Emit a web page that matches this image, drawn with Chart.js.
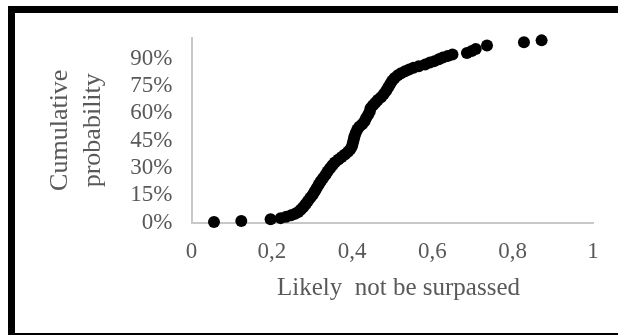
<!DOCTYPE html>
<html>
<head>
<meta charset="utf-8">
<script src="https://cdn.jsdelivr.net/npm/chart.js@4.4.1/dist/chart.umd.min.js"></script>
<style>
  html, body { margin: 0; padding: 0; background: #fff; overflow: hidden; }
  #wrap { position: relative; width: 618px; height: 336px; }
  #frame {
    position: absolute; left: 8px; top: 6px; width: 620px; height: 320px;
    border-left: 7px solid #000; border-top: 7px solid #000; border-bottom: 2px solid #000;
    pointer-events: none;
  }
  canvas { position: absolute; left: 0; top: 0; }
</style>
</head>
<body>
<div id="wrap">
  <canvas id="mycanvas" width="618" height="336"></canvas>
  <div id="frame"></div>
</div>
<script>
// values
var likely = [
  0.056, 0.124, 0.197, 0.222, 0.236, 0.248, 0.258, 0.266, 0.272, 0.278,
  0.284, 0.290, 0.296, 0.302, 0.307, 0.312, 0.317, 0.322, 0.328, 0.334,
  0.339, 0.345, 0.351, 0.357, 0.366, 0.374, 0.382, 0.390, 0.396, 0.400,
  0.402, 0.404, 0.406, 0.409, 0.413, 0.418, 0.425, 0.431, 0.435, 0.440,
  0.444, 0.446, 0.452, 0.458, 0.464, 0.472, 0.479, 0.485, 0.490, 0.495,
  0.500, 0.506, 0.514, 0.522, 0.532, 0.542, 0.553, 0.566, 0.582, 0.594,
  0.605, 0.616, 0.626, 0.638, 0.650, 0.686, 0.698, 0.708, 0.736, 0.828,
  0.872
];
var cumulative = [
  0.003, 0.008, 0.018, 0.024, 0.032, 0.040, 0.048, 0.058, 0.070, 0.084,
  0.100, 0.118, 0.136, 0.152, 0.172, 0.190, 0.208, 0.226, 0.244, 0.262,
  0.280, 0.298, 0.314, 0.330, 0.346, 0.360, 0.374, 0.388, 0.404, 0.420,
  0.438, 0.456, 0.474, 0.492, 0.510, 0.526, 0.540, 0.556, 0.574, 0.592,
  0.610, 0.628, 0.644, 0.658, 0.672, 0.688, 0.706, 0.724, 0.742, 0.760,
  0.778, 0.794, 0.808, 0.820, 0.830, 0.840, 0.850, 0.858, 0.868, 0.878,
  0.886, 0.896, 0.906, 0.914, 0.922, 0.930, 0.942, 0.952, 0.972, 0.990,
  1.000
];
var xTicks = [0, 0.2, 0.4, 0.6, 0.8, 1];
var yTicks = [0, 0.15, 0.30, 0.45, 0.60, 0.75, 0.90];

var points = [];
for (var i in likely) {
  points.push({ x: likely[i], y: cumulative[i] });
}

var grey = '#595959';
var axisGrey = '#c8c8c8';

var ctx = document.getElementById('mycanvas');
var chart = new Chart(ctx, {
  type: 'scatter',
  data: {
    datasets: [{
      data: points,
      backgroundColor: '#000',
      borderColor: '#000',
      borderWidth: 0,
      pointRadius: 6,
      pointHoverRadius: 6,
      clip: false
    }]
  },
  options: {
    responsive: false,
    animation: false,
    devicePixelRatio: 1,
    layout: { padding: { top: 38, right: 25, left: 0, bottom: 0 } },
    plugins: {
      legend: { display: false },
      tooltip: { enabled: false }
    },
    scales: {
      x: {
        type: 'linear',
        min: 0,
        max: 1,
        grid: { display: false, drawTicks: false },
        border: { display: true, color: axisGrey, width: 2 },
        afterBuildTicks: function(scale) {
          scale.ticks = xTicks.map(function(v) { return { value: v }; });
        },
        afterFit: function(scale) { scale.height = 113.5; },
        ticks: {
          autoSkip: false,
          maxRotation: 0,
          padding: 16,
          color: grey,
          font: { family: 'Liberation Serif', size: 23 },
          callback: function(v) { return String(Math.round(v * 10) / 10).replace('.', ','); }
        },
        title: {
          display: true,
          text: '  Likely  not be surpassed',
          color: grey,
          font: { family: 'Liberation Serif', size: 25 },
          padding: { top: 0, bottom: 33 }
        }
      },
      y: {
        type: 'linear',
        min: 0,
        max: 1.013,
        grid: { display: false, drawTicks: false },
        border: { display: true, color: axisGrey, width: 2 },
        afterBuildTicks: function(scale) {
          scale.ticks = yTicks.map(function(v) { return { value: v }; });
        },
        afterFit: function(scale) { scale.width = 191.5; },
        ticks: {
          autoSkip: false,
          padding: 19,
          color: grey,
          font: { family: 'Liberation Serif', size: 23 },
          callback: function(v) { return Math.round(v * 100) + '%'; }
        },
        title: {
          display: true,
          text: ['Cumulative', 'probability'],
          color: grey,
          font: { family: 'Liberation Serif', size: 26, lineHeight: 1.25 },
          padding: { top: 44, bottom: 0 }
        }
      }
    }
  }
});
</script>
</body>
</html>
